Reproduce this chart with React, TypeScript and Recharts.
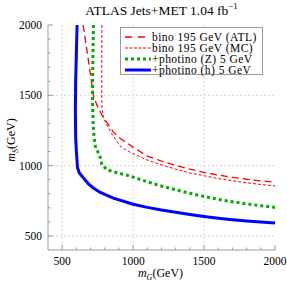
import { LineChart, Line, XAxis, YAxis, CartesianGrid } from 'recharts';

const binoAtlG = [648, 680, 700, 720, 745, 780, 820, 860, 908, 1000, 1100, 1200, 1300, 1400, 1500, 1600, 1700, 1800, 1900, 2000];
const binoAtlS = [2000, 1780, 1640, 1500, 1430, 1360, 1300, 1240, 1195, 1130, 1068, 1032, 1002, 975, 952, 933, 917, 903, 892, 882];

const binoMcG = [780, 779, 779, 781, 790, 810, 850, 908, 950, 1000, 1100, 1200, 1300, 1400, 1500, 1600, 1700, 1800, 1900, 2000];
const binoMcS = [2000, 1700, 1500, 1400, 1340, 1300, 1225, 1140, 1110, 1085, 1040, 1005, 975, 948, 928, 908, 892, 878, 866, 856];

const photZG = [720, 717, 714, 714, 718, 725, 733, 750, 763, 780, 815, 860, 900, 967, 1000, 1100, 1200, 1300, 1400, 1500, 1600, 1700, 1800, 1900, 2000];
const photZS = [2000, 1800, 1600, 1450, 1300, 1200, 1140, 1100, 1079, 1007, 971, 957, 946, 929, 918, 885, 855, 828, 803, 780, 760, 743, 728, 715, 703];

const photHG = [605, 600, 595, 593, 595, 600, 605, 608, 620, 650, 685, 720, 768, 861, 1000, 1100, 1200, 1300, 1400, 1500, 1600, 1700, 1800, 1900, 2000];
const photHS = [2000, 1800, 1600, 1400, 1200, 1100, 1030, 986, 950, 912, 870, 841, 809, 769, 725, 703, 684, 668, 652, 638, 626, 615, 606, 599, 592];

const majorTicks = [500, 1000, 1500, 2000];
const minorTicks = [600, 700, 800, 900, 1100, 1200, 1300, 1400, 1600, 1700, 1800, 1900];
const gridValues = [500, 1000, 1500];
const allTicks = [...majorTicks, ...minorTicks].sort((a, b) => a - b);

const toPoints = (g: number[], s: number[]) => g.map((x, i) => ({ x, y: s[i] }));

const series = [
  { name: 'bino 195 GeV (ATL)', data: toPoints(binoAtlG, binoAtlS), color: '#ff0000', width: 1.3, dash: '7 4', legendDash: '7 6' },
  { name: 'bino 195 GeV (MC)', data: toPoints(binoMcG, binoMcS), color: '#ff0000', width: 1, dash: '3 2', legendDash: '3 1.5' },
  { name: '+photino (Z) 5 GeV', data: toPoints(photZG, photZS), color: '#00aa00', width: 3, dash: '3 3', legendDash: '3 3' },
  { name: '+photino (h) 5 GeV', data: toPoints(photHG, photHS), color: '#0000ff', width: 3, dash: undefined, legendDash: undefined },
];

const FONT = '"Liberation Serif", "DejaVu Serif", serif';
const FRAME = '#9a9a9a';

const tickLen = (v: number) => (majorTicks.includes(v) ? 5 : 2.5);

const BottomTick = ({ x, y, payload }: any) => (
  <g>
    <line x1={x} x2={x} y1={y} y2={y - tickLen(payload.value)} stroke={FRAME} />
    {majorTicks.includes(payload.value) && (
      <text x={x} y={y + 15} textAnchor="middle" fontSize={11.5} fontFamily={FONT} fill="#000">
        {payload.value}
      </text>
    )}
  </g>
);

const TopTick = ({ x, y, payload }: any) => (
  <line x1={x} x2={x} y1={y} y2={y + tickLen(payload.value)} stroke={FRAME} />
);

const LeftTick = ({ x, y, payload }: any) => (
  <g>
    <line x1={x} x2={x + tickLen(payload.value)} y1={y} y2={y} stroke={FRAME} />
    {majorTicks.includes(payload.value) && (
      <text x={x - 6} y={y + 4} textAnchor="end" fontSize={11.5} fontFamily={FONT} fill="#000">
        {payload.value}
      </text>
    )}
  </g>
);

const RightTick = ({ x, y, payload }: any) => (
  <line x1={x} x2={x - tickLen(payload.value)} y1={y} y2={y} stroke={FRAME} />
);

export default function App() {
  return (
    <div style={{ position: 'absolute', left: 0, top: 0, width: 287, height: 287, background: '#fff', fontFamily: FONT }}>
      <div style={{ position: 'absolute', left: 48, width: 227, top: 1, textAlign: 'center', fontSize: 13.5 }}>
        ATLAS Jets+MET 1.04 fb<sup style={{ fontSize: 9 }}>−1</sup>
      </div>

      <LineChart width={287} height={287} margin={{ top: 25, right: 12, bottom: 0, left: 0 }}>
        <CartesianGrid
          stroke="#d8d8d8"
          strokeDasharray="2 2"
          horizontalValues={gridValues}
          verticalValues={gridValues}
        />
        <XAxis
          type="number"
          dataKey="x"
          domain={[400, 2000]}
          ticks={allTicks}
          interval={0}
          allowDataOverflow
          height={37}
          stroke={FRAME}
          tickLine={false}
          tickSize={0}
          tickMargin={0}
          tick={<BottomTick />}
        />
        <XAxis
          xAxisId="top"
          orientation="top"
          type="number"
          dataKey="x"
          domain={[400, 2000]}
          ticks={allTicks}
          interval={0}
          allowDataOverflow
          height={0}
          stroke={FRAME}
          tickLine={false}
          tickSize={0}
          tickMargin={0}
          tick={<TopTick />}
        />
        <YAxis
          type="number"
          dataKey="y"
          domain={[400, 2000]}
          ticks={allTicks}
          interval={0}
          allowDataOverflow
          width={48}
          stroke={FRAME}
          tickLine={false}
          tickSize={0}
          tickMargin={0}
          tick={<LeftTick />}
        />
        <YAxis
          yAxisId="right"
          orientation="right"
          type="number"
          dataKey="y"
          domain={[400, 2000]}
          ticks={allTicks}
          interval={0}
          allowDataOverflow
          width={0}
          stroke={FRAME}
          tickLine={false}
          tickSize={0}
          tickMargin={0}
          tick={<RightTick />}
        />
        {series.map((s) => (
          <Line
            key={s.name}
            data={s.data}
            dataKey="y"
            name={s.name}
            type="linear"
            stroke={s.color}
            strokeWidth={s.width}
            strokeDasharray={s.dash}
            dot={false}
            activeDot={false}
            isAnimationActive={false}
          />
        ))}
      </LineChart>

      <div
        style={{
          position: 'absolute',
          left: 120,
          top: 27,
          width: 143,
          height: 48,
          border: '1px solid #999',
          background: '#fff',
          boxSizing: 'border-box',
          padding: '3px 0 0 4px',
        }}
      >
        {series.map((s) => (
          <div key={s.name} style={{ display: 'flex', alignItems: 'center', height: 11, fontSize: 11.5, letterSpacing: 0.45, whiteSpace: 'nowrap' }}>
            <svg width={26} height={6} style={{ marginRight: 1 }}>
              <line x1={0} x2={26} y1={3} y2={3} stroke={s.color} strokeWidth={s.width} strokeDasharray={s.legendDash} />
            </svg>
            <span>{s.name}</span>
          </div>
        ))}
      </div>

      <div style={{ position: 'absolute', left: 0, width: 287, top: 266, textAlign: 'center', paddingLeft: 34, boxSizing: 'border-box', fontSize: 12 }}>
        <i>m</i>
        <sub style={{ fontSize: 8 }}><i>G</i></sub>(GeV)
      </div>

      <div
        style={{
          position: 'absolute',
          left: 12,
          top: 140,
          transform: 'translate(-50%, -50%) rotate(-90deg)',
          fontSize: 12,
          whiteSpace: 'nowrap',
        }}
      >
        <i>m</i>
        <sub style={{ fontSize: 8 }}><i>S</i></sub>(GeV)
      </div>
    </div>
  );
}
